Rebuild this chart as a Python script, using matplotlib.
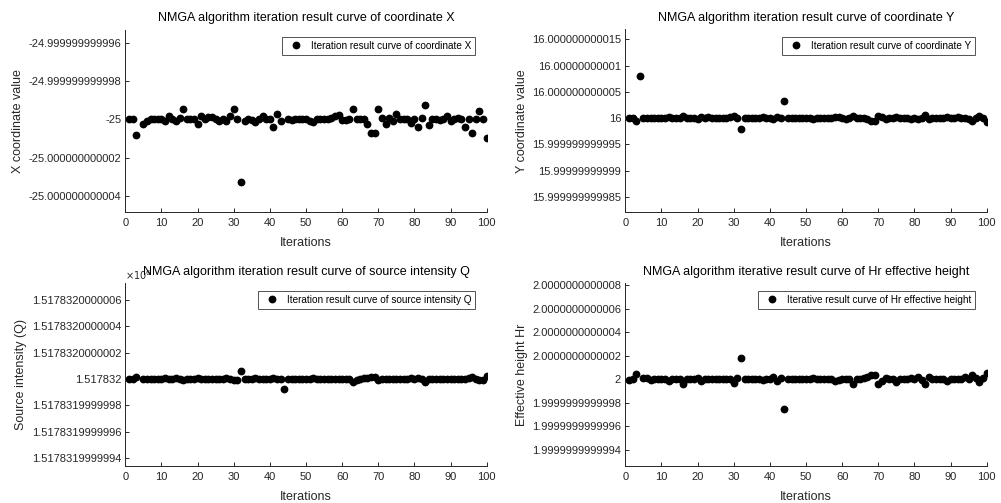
import numpy as np
import matplotlib
matplotlib.use("Agg")
import matplotlib.pyplot as plt

nan = np.nan
iterations = list(range(1, 101))

# deviations from the converged value (units given per panel)
x_offset_e12 = [0, 0, -0.82, nan, -0.25, -0.1, 0, 0, 0, 0,
                -0.1, 0.15, 0, -0.07, 0.05, 0.52, 0, 0, 0.03, -0.25,
                0.15, 0, 0.1, 0.1, 0, -0.07, 0.03, -0.07, 0.15, 0.52,
                0, -3.25, -0.07, 0, -0.04, -0.12, 0, 0.15, 0, 0,
                -0.38, 0.26, -0.07, nan, 0, -0.04, 0, 0, 0, 0,
                -0.07, -0.12, 0, 0, 0, 0, 0.05, 0.15, 0.22, -0.04,
                -0.04, 0, 0.52, 0, 0, 0, -0.25, -0.7, -0.7, 0.52,
                0.05, -0.25, 0.05, -0.07, 0.3, 0, 0, 0, -0.2, 0,
                -0.38, 0.08, 0.75, -0.3, 0, 0, -0.04, 0, 0.15, -0.07,
                0, 0.05, 0, -0.42, 0, -0.7, 0, 0.43, 0, -0.95]

y_offset_e12 = [0, 0, -0.5, 8.0, 0, 0, 0, 0, 0, 0,
                0, 0.15, 0, 0, 0, 0.45, 0, 0, 0, -0.15,
                0.15, 0, 0.15, 0, 0, 0, 0, 0, 0.15, 0.45,
                0, -2.1, 0, 0, 0, 0, 0, 0.25, 0, 0,
                -0.2, 0.25, 0, 3.25, 0, 0, 0, 0, 0, 0,
                0, -0.1, 0, 0, 0, 0, 0.1, 0.2, 0.25, 0,
                -0.1, 0, 0.45, 0.1, 0, 0, -0.2, -0.5, -0.5, 0.45,
                0.2, -0.15, 0, 0, 0.2, 0, 0, 0, -0.15, 0,
                -0.15, 0.1, 0.65, -0.15, 0, 0, 0, 0, 0.2, 0,
                0, 0.2, 0, 0, -0.15, -0.5, 0, 0.45, 0.1, -0.65]

q_offset_e13 = [0, 0, 0.15, nan, 0, 0, 0, 0, 0, 0,
                0.05, 0, 0, 0.05, 0, -0.1, 0, 0, 0, 0.1,
                0, 0, 0, 0, 0, 0, 0, 0.05, 0, -0.1,
                -0.05, 0.63, 0, 0, 0, 0.05, 0, 0, 0, 0,
                0.1, 0, 0, -0.73, 0, 0, 0, 0, 0, 0,
                0, 0.05, 0, 0, 0, 0, 0, 0, 0, 0,
                0, 0, -0.2, -0.05, 0, 0.05, 0.1, 0.18, 0.18, -0.1,
                0, 0, 0, 0, 0, 0, 0, 0, 0.05, 0,
                0.05, 0, -0.2, 0, 0, 0, 0, 0, 0, 0,
                0, 0, 0, 0, 0.05, 0.15, 0, -0.1, -0.05, 0.23]

hr_offset_e13 = [-0.05, 0, 0.45, nan, 0.15, 0.08, -0.05, 0, 0, 0,
                 0, -0.15, 0, 0, 0, -0.4, 0, 0, 0, 0.15,
                 -0.15, 0, 0, 0, 0, 0, 0, 0, 0, -0.35,
                 0.08, 1.79, 0, 0, 0, 0, 0, -0.1, 0, 0,
                 0.2, -0.15, 0.08, -2.55, 0, 0, 0, 0, 0, 0,
                 0, 0.1, 0, 0, 0, 0, 0, -0.15, -0.05, 0,
                 0.05, 0, -0.4, 0, 0, 0.1, 0.2, 0.35, 0.4, -0.4,
                 -0.15, 0.15, 0, 0, -0.2, 0, 0, 0, 0.15, 0,
                 0.2, -0.05, -0.43, 0.2, 0, 0, 0, 0, -0.15, 0,
                 0, 0, 0, 0.2, 0, 0.4, 0.08, -0.2, 0.08, 0.57]

x_ticks = [-4, -2, 0, 2, 4]
x_ticklabels = ['-25.000000000004', '-25.000000000002', '-25',
                '-24.999999999998', '-24.999999999996']
y_ticks = [-15, -10, -5, 0, 5, 10, 15]
y_ticklabels = ['15.999999999985', '15.99999999999', '15.999999999995', '16',
                '16.000000000005', '16.00000000001', '16.000000000015']
q_ticks = [-6, -4, -2, 0, 2, 4, 6]
q_ticklabels = ['1.5178319999994', '1.5178319999996', '1.5178319999998', '1.517832',
                '1.5178320000002', '1.5178320000004', '1.5178320000006']
hr_ticks = [-6, -4, -2, 0, 2, 4, 6, 8]
hr_ticklabels = ['1.9999999999994', '1.9999999999996', '1.9999999999998', '2',
                 '2.0000000000002', '2.0000000000004', '2.0000000000006', '2.0000000000008']
x_axis_ticks = list(range(0, 101, 10))

titles = ['NMGA algorithm iteration result curve of coordinate X',
          'NMGA algorithm iteration result curve of coordinate Y',
          'NMGA algorithm iteration result curve of source intensity Q',
          'NMGA algorithm iterative result curve of Hr effective height']
legends = ['Iteration result curve of coordinate X',
           'Iteration result curve of coordinate Y',
           'Iteration result curve of source intensity Q',
           'Iterative result curve of Hr effective height']
ylabels = ['X coordinate value', 'Y coordinate value',
           'Source intensity (Q)', 'Effective height Hr']

plt.rcParams['font.family'] = ['Liberation Sans', 'DejaVu Sans']
W, H = 1001, 503
fig = plt.figure(figsize=(W / 100, H / 100), dpi=100)

def frac(l, r, t, b):
    return [l / W, 1 - b / H, (r - l) / W, (b - t) / H]

positions = [frac(125.3, 486.7, 29.5, 212), frac(625.3, 986.7, 29.5, 212),
             frac(125.3, 486.7, 283, 466), frac(625.3, 986.7, 283, 466)]
series = [x_offset_e12, y_offset_e12, q_offset_e13, hr_offset_e13]
ticks = [x_ticks, y_ticks, q_ticks, hr_ticks]
ticklabels = [x_ticklabels, y_ticklabels, q_ticklabels, hr_ticklabels]
ylims = [(-4.84, 4.69), (-17.9, 16.9), (-6.6, 7.3), (-7.38, 8.2)]
leg_anchor = [(0.968, 0.96), (0.968, 0.96), (0.968, 0.958), (0.968, 0.958)]

axc = '#262626'
for i in range(4):
    ax = fig.add_axes(positions[i])
    ax.plot(iterations, series[i], 'o', color='black', markersize=4.6,
            linestyle='none', label=legends[i])
    ax.set_xlim(0, 100)
    ax.set_ylim(*ylims[i])
    ax.set_xticks(x_axis_ticks)
    ax.set_yticks(ticks[i])
    ax.set_yticklabels(ticklabels[i])
    for s in ['top', 'right']:
        ax.spines[s].set_visible(False)
    for s in ['left', 'bottom']:
        ax.spines[s].set_color(axc)
        ax.spines[s].set_linewidth(0.7)
    ax.tick_params(direction='in', length=3, width=0.7, color=axc,
                   labelsize=8, labelcolor=axc, pad=3)
    ax.tick_params(axis='x', pad=4.5)
    ax.set_xlabel('Iterations', fontsize=9, color=axc, labelpad=6.5)
    ax.set_ylabel(ylabels[i], fontsize=9, color=axc, labelpad=3)
    ax.set_title(titles[i], fontsize=9, color='black', pad=6)
    leg = ax.legend(loc='upper right', bbox_to_anchor=leg_anchor[i],
                    borderaxespad=0, fontsize=7.2, fancybox=False,
                    frameon=True, edgecolor=axc, handlelength=2.0,
                    handletextpad=0.5, borderpad=0.4, numpoints=1)
    leg.get_frame().set_linewidth(0.7)
    if i == 2:
        ax.text(0.0, 1.005, r'$\times10^6$', transform=ax.transAxes,
                fontsize=7, color=axc, ha='left', va='bottom')

fig.savefig('out.png', dpi=100)
